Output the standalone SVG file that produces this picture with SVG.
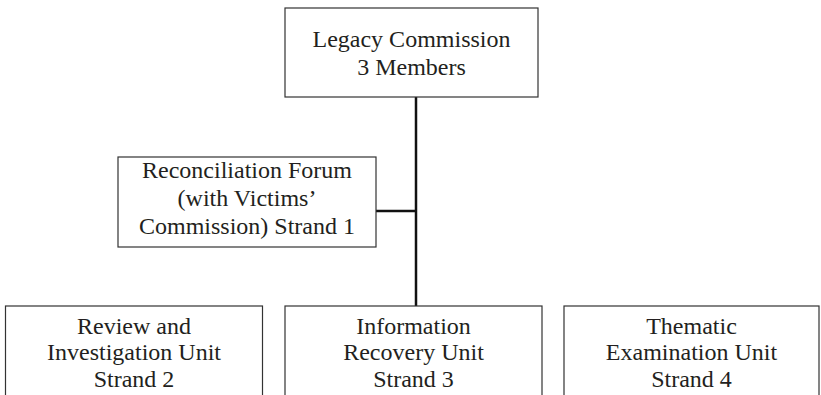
<svg xmlns="http://www.w3.org/2000/svg" width="821" height="395" viewBox="0 0 821 395">
<style>
.box{fill:#fff;stroke:#333;stroke-width:1.2}
.t{font-family:'Liberation Serif','DejaVu Serif',serif;font-size:24px;fill:#231f20;text-anchor:middle}
.c{stroke:#111;stroke-width:2.5;fill:none}
</style>
<g id="connectors">
<line class="c" x1="416" y1="97" x2="416" y2="306"/>
<line class="c" x1="376" y1="211" x2="416" y2="211"/>
</g>
<g id="legacy">
<rect class="box" x="285" y="8" width="253" height="89"/>
<text class="t" x="411.5" y="47">Legacy Commission</text>
<text class="t" x="411.5" y="75">3 Members</text>
</g>
<g id="forum">
<rect class="box" x="118" y="157" width="258" height="90"/>
<text class="t" x="247" y="178">Reconciliation Forum</text>
<text class="t" x="247" y="206">(with Victims’</text>
<text class="t" x="247" y="234">Commission) Strand 1</text>
</g>
<g id="review">
<rect class="box" x="5.5" y="306" width="257" height="100"/>
<text class="t" x="134" y="334">Review and</text>
<text class="t" x="134" y="360">Investigation Unit</text>
<text class="t" x="134" y="387">Strand 2</text>
</g>
<g id="recovery">
<rect class="box" x="285" y="306" width="257" height="100"/>
<text class="t" x="413.5" y="334">Information</text>
<text class="t" x="413.5" y="360">Recovery Unit</text>
<text class="t" x="413.5" y="387">Strand 3</text>
</g>
<g id="thematic">
<rect class="box" x="564" y="306" width="255" height="100"/>
<text class="t" x="691.5" y="334">Thematic</text>
<text class="t" x="691.5" y="360">Examination Unit</text>
<text class="t" x="691.5" y="387">Strand 4</text>
</g>
</svg>
